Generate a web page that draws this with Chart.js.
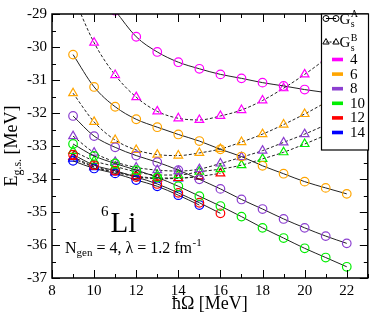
<!DOCTYPE html>
<html>
<head>
<meta charset="utf-8">
<script src="https://cdn.jsdelivr.net/npm/chart.js@4.4.0/dist/chart.umd.min.js"></script>
<style>
  html, body { margin: 0; padding: 0; background: #fff; }
  #wrap { width: 374px; height: 316px; }
</style>
</head>
<body>
<div id="wrap"><canvas id="chart"></canvas></div>
<script>
// hbar*Omega values [MeV]
const hw = [9, 10, 11, 12, 13, 14, 15, 16, 17, 18, 19, 20, 21, 22];
const nmaxLabels = ['4', '6', '8', '10', '12', '14'];
const colours = ['#ff00ff', '#ffa500', '#8c3fd0', '#00ee00', '#ff0000', '#0000ff'];
const yTicks = [-37, -36, -35, -34, -33, -32, -31, -30, -29];

// ground state energies, G_s^A (circles, solid)
const eA4  = [null, null, -28.9, -29.69, -30.15, -30.46, -30.66, -30.83, -30.95, -31.08, -31.18, -31.29, -31.38, -31.46];
const eA6  = [-30.23, -31.21, -31.81, -32.19, -32.43, -32.65, -32.85, -33.10, -33.32, -33.60, -33.84, -34.08, -34.27, -34.45];
const eA8  = [-32.09, -32.70, -33.04, -33.29, -33.49, -33.73, -34.01, -34.30, -34.62, -34.91, -35.21, -35.48, -35.73, -35.95];
const eA10 = [-32.94, -33.30, -33.53, -33.73, -33.95, -34.22, -34.52, -34.82, -35.14, -35.48, -35.79, -36.10, -36.38, -36.66];
const eA12 = [-33.26, -33.58, -33.75, -33.94, -34.15, -34.42, -34.72, -35.04, null, null, null, null, null, null];
const eA14 = [-33.45, -33.68, -33.83, -34.03, -34.22, -34.49, -34.79, null, null, null, null, null, null, null];

// G_s^B (triangles, dashed)
const eB4  = [-28.45, -29.87, -30.85, -31.52, -31.95, -32.16, -32.21, -32.09, -31.91, -31.62, -31.25, -30.83, -30.36, -29.85];
const eB6  = [-31.40, -32.27, -32.82, -33.12, -33.26, -33.29, -33.21, -33.09, -32.88, -32.64, -32.35, -32.03, -31.68, -31.30];
const eB8  = [-32.70, -33.20, -33.48, -33.65, -33.73, -33.76, -33.70, -33.53, -33.34, -33.14, -32.89, -32.64, -32.36, -32.06];
const eB10 = [-33.15, -33.45, -33.62, -33.78, -33.88, -33.88, -33.78, -33.70, -33.58, -33.39, -33.19, -32.94, -32.67, -32.38];
const eB12 = [-33.33, -33.62, -33.78, -33.91, -33.97, -33.97, -33.92, -33.83, null, null, null, null, null, null];
const eB14 = [-33.38, -33.64, -33.80, -33.93, -33.99, -33.98, -33.93, null, null, null, null, null, null, null];

const seriesA = [eA4, eA6, eA8, eA10, eA12, eA14];
const seriesB = [eB4, eB6, eB8, eB10, eB12, eB14];

const SERIF = '"Liberation Serif", "DejaVu Serif", serif';

function pts(arr) {
  return hw.map((x, i) => ({ x: x, y: arr[i] })).filter(p => p.y !== null);
}

const datasets = [];
seriesA.forEach((arr, i) => {
  datasets.push({
    label: 'A' + nmaxLabels[i],
    data: pts(arr),
    borderColor: '#222',
    borderWidth: 1,
    pointStyle: 'circle',
    pointRadius: 4.3,
    pointBorderWidth: 1.2,
    pointBorderColor: colours[i],
    pointBackgroundColor: 'rgba(0,0,0,0)',
    cubicInterpolationMode: 'monotone'
  });
});
seriesB.forEach((arr, i) => {
  datasets.push({
    label: 'B' + nmaxLabels[i],
    data: pts(arr),
    borderColor: '#222',
    borderWidth: 1,
    borderDash: [3, 2],
    pointStyle: 'triangle',
    pointRadius: 5,
    pointBorderWidth: 1.2,
    pointBorderColor: colours[i],
    pointBackgroundColor: 'rgba(0,0,0,0)',
    cubicInterpolationMode: 'monotone'
  });
});

function drawSubSup(ctx, x, y, main, sub, sup, size, small) {
  ctx.font = size + 'px ' + SERIF;
  ctx.fillText(main, x, y);
  let w = ctx.measureText(main).width;
  ctx.font = small + 'px ' + SERIF;
  if (sub) ctx.fillText(sub, x + w + 0.5, y + size * 0.25);
  if (sup) ctx.fillText(sup, x + w + 0.5, y - size * 0.42);
}

const decor = {
  id: 'decor',
  afterDraw(chart) {
    const ctx = chart.ctx;
    const a = chart.chartArea;
    const xs = chart.scales.x, ys = chart.scales.y;
    ctx.save();
    ctx.strokeStyle = '#000';
    ctx.fillStyle = '#000';

    // ticks (inward, mirrored)
    ctx.lineWidth = 1;
    ctx.beginPath();
    for (let v = 8; v <= 23; v++) {
      const px = Math.round(xs.getPixelForValue(v)) + 0.5;
      const len = v % 2 === 0 ? 8 : 4;
      ctx.moveTo(px, a.bottom); ctx.lineTo(px, a.bottom - len);
      ctx.moveTo(px, a.top); ctx.lineTo(px, a.top + len);
    }
    for (let v = -37; v <= -29; v += 0.5) {
      const py = Math.round(ys.getPixelForValue(v)) + 0.5;
      const len = Number.isInteger(v) ? 8 : 4;
      ctx.moveTo(a.left, py); ctx.lineTo(a.left + len, py);
      ctx.moveTo(a.right, py); ctx.lineTo(a.right - len, py);
    }
    ctx.stroke();

    // frame
    ctx.lineWidth = 1.5;
    ctx.strokeRect(a.left, a.top, a.right - a.left, a.bottom - a.top);

    // legend box
    const lx = 321.5, ly = a.top, lw = 47, lh = 136;
    ctx.fillStyle = '#fff';
    ctx.fillRect(lx, ly, lw, lh);
    ctx.lineWidth = 1.2;
    ctx.strokeRect(lx, ly, lw, lh);
    ctx.fillStyle = '#000';

    // G_s^A entry
    ctx.lineWidth = 1;
    ctx.beginPath(); ctx.moveTo(326, 18.5); ctx.lineTo(336, 18.5); ctx.stroke();
    [326, 336].forEach(cx => { ctx.beginPath(); ctx.arc(cx, 18.5, 3, 0, Math.PI * 2); ctx.stroke(); });
    ctx.textBaseline = 'alphabetic';
    ctx.textAlign = 'left';
    drawSubSup(ctx, 339.5, 23.5, 'G', 's', 'A', 15, 10);

    // G_s^B entry
    ctx.setLineDash([2, 1.5]);
    ctx.beginPath(); ctx.moveTo(326, 42); ctx.lineTo(336, 42); ctx.stroke();
    ctx.setLineDash([]);
    [326, 336].forEach(cx => {
      ctx.beginPath();
      ctx.moveTo(cx, 38.5); ctx.lineTo(cx + 3.2, 44); ctx.lineTo(cx - 3.2, 44); ctx.closePath();
      ctx.stroke();
    });
    drawSubSup(ctx, 339.5, 47, 'G', 's', 'B', 15, 10);

    // N_max colour entries
    ctx.font = '15px ' + SERIF;
    ctx.textBaseline = 'middle';
    nmaxLabels.forEach((lab, i) => {
      const cy = 59.5 + i * 14.6;
      ctx.fillStyle = colours[i];
      ctx.fillRect(332, cy - 1.8, 11, 3.6);
      ctx.fillStyle = '#000';
      ctx.fillText(lab, 350, cy + 0.5);
    });

    // 6Li label
    ctx.textBaseline = 'alphabetic';
    ctx.font = '15px ' + SERIF;
    ctx.fillText('6', 101, 216);
    ctx.font = '29px ' + SERIF;
    ctx.fillText('Li', 110.5, 231.5);

    // N_gen = 4, lambda = 1.2 fm^-1
    let x = 65;
    const base = 252.5;
    ctx.font = '16px ' + SERIF;
    ctx.fillText('N', x, base); x += ctx.measureText('N').width;
    ctx.font = '11px ' + SERIF;
    ctx.fillText('gen', x, base + 3.5); x += ctx.measureText('gen').width;
    ctx.font = '16px ' + SERIF;
    const mid = ' = 4, \u03bb = 1.2 fm';
    ctx.fillText(mid, x, base); x += ctx.measureText(mid).width;
    ctx.font = '11px ' + SERIF;
    ctx.fillText('-1', x + 0.5, base - 6.5);

    // x title
    ctx.font = '18px ' + SERIF;
    ctx.textAlign = 'center';
    ctx.fillText('\u0127\u03a9 [MeV]', (a.left + a.right) / 2, 309);

    // y title
    ctx.save();
    ctx.translate(17, (a.top + a.bottom) / 2);
    ctx.rotate(-Math.PI / 2);
    ctx.textAlign = 'left';
    ctx.font = '18px ' + SERIF;
    const wE = ctx.measureText('E').width;
    const wR = ctx.measureText(' [MeV]').width;
    ctx.font = '12px ' + SERIF;
    const wS = ctx.measureText('g.s.').width;
    let tx = -(wE + wS + wR) / 2;
    ctx.font = '18px ' + SERIF;
    ctx.fillText('E', tx, 0); tx += wE;
    ctx.font = '12px ' + SERIF;
    ctx.fillText('g.s.', tx, 4); tx += wS;
    ctx.font = '18px ' + SERIF;
    ctx.fillText(' [MeV]', tx, 0);
    ctx.restore();

    ctx.restore();
  }
};

new Chart(document.getElementById('chart').getContext('2d'), {
  type: 'line',
  data: { datasets: datasets },
  options: {
    responsive: true,
    maintainAspectRatio: false,
    animation: false,
    layout: { padding: { top: 6, right: 2, left: 0, bottom: 0 } },
    plugins: { legend: { display: false }, tooltip: { enabled: false } },
    scales: {
      x: {
        type: 'linear',
        min: 8,
        max: 23,
        grid: { display: false, drawTicks: false },
        border: { display: false },
        ticks: {
          stepSize: 2,
          includeBounds: false,
          autoSkip: false,
          maxRotation: 0,
          padding: 4,
          color: '#000',
          font: { family: SERIF, size: 15 }
        },
        afterFit: s => { s.height = 38; }
      },
      y: {
        min: -37,
        max: -29,
        grid: { display: false, drawTicks: false },
        border: { display: false },
        afterBuildTicks: s => { s.ticks = yTicks.map(v => ({ value: v })); },
        ticks: {
          padding: 5,
          color: '#000',
          font: { family: SERIF, size: 15 }
        },
        afterFit: s => { s.width = 52; }
      }
    }
  },
  plugins: [decor]
});
</script>
</body>
</html>
